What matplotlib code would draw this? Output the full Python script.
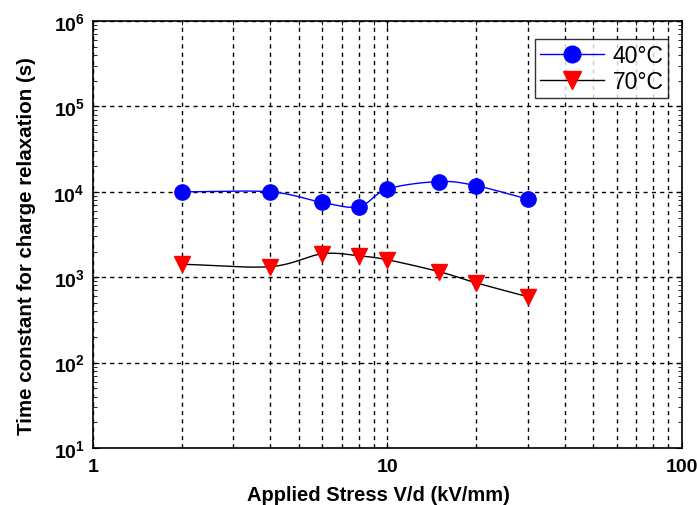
import numpy as np
import matplotlib
matplotlib.use('Agg')
import matplotlib.pyplot as plt
from matplotlib.ticker import FixedLocator, FuncFormatter, LogLocator, NullFormatter

plt.rcParams['font.family'] = 'Liberation Sans'
plt.rcParams['mathtext.fontset'] = 'custom'
plt.rcParams['mathtext.rm'] = 'Liberation Sans:bold'
plt.rcParams['mathtext.it'] = 'Liberation Sans:bold'
plt.rcParams['mathtext.bf'] = 'Liberation Sans:bold'

# data
stress = [2, 4, 6, 8, 10, 15, 20, 30]
tau_40 = [10000, 10000, 7500, 6700, 10800, 13200, 11800, 8200]
tau_70 = [1420, 1330, 1880, 1780, 1600, 1160, 860, 590]


def smooth(x, y, n=20):
    # Catmull-Rom curve through the points (in log space) for drawing
    lx = np.log10(x)
    ly = np.log10(y)
    px = np.concatenate([[2 * lx[0] - lx[1]], lx, [2 * lx[-1] - lx[-2]]])
    py = np.concatenate([[2 * ly[0] - ly[1]], ly, [2 * ly[-1] - ly[-2]]])
    xs, ys = [], []
    t = np.linspace(0, 1, n, endpoint=False)
    for i in range(1, len(px) - 2):
        for p, out in ((px, xs), (py, ys)):
            p0, p1, p2, p3 = p[i - 1], p[i], p[i + 1], p[i + 2]
            out.extend(0.5 * (2 * p1 + (-p0 + p2) * t + (2 * p0 - 5 * p1 + 4 * p2 - p3) * t ** 2
                              + (-p0 + 3 * p1 - 3 * p2 + p3) * t ** 3))
    xs.append(lx[-1])
    ys.append(ly[-1])
    return 10 ** np.array(xs), 10 ** np.array(ys)


fig = plt.figure(figsize=(6.97, 5.06), dpi=100)
ax = fig.add_axes([0.1334, 0.1126, 0.845, 0.8439])

sx, sy = smooth(stress, tau_40)
ax.plot(sx, sy, color='blue', lw=1, zorder=3)
ax.plot(stress, tau_40, 'o', color='blue', ms=11, zorder=4)
sx, sy = smooth(stress, tau_70)
ax.plot(sx, sy, color='black', lw=1, zorder=3)
ax.plot(stress, tau_70, 'v', color='red', ms=12, zorder=4)

# legend handles
h1, = ax.plot([], [], '-o', color='blue', ms=12, lw=1)
h2, = ax.plot([], [], '-v', color='black', mfc='red', mec='red', ms=13, lw=1)
leg = ax.legend([h1, h2], ['40°C', '70°C'], loc='upper right', fontsize=16.5,
                frameon=True, fancybox=False, edgecolor='black', handlelength=2.8,
                handletextpad=0.4, borderpad=0.2, labelspacing=0.15,
                borderaxespad=0, bbox_to_anchor=(0.977, 0.958))
leg.get_frame().set_linewidth(1)

ax.set_xscale('log')
ax.set_yscale('log')
ax.set_xlim(1, 100)
ax.set_ylim(10, 1e6)

ax.xaxis.set_major_locator(FixedLocator([1, 10, 100]))
ax.xaxis.set_minor_locator(LogLocator(base=10, subs=np.arange(2, 10)))
ax.xaxis.set_minor_formatter(NullFormatter())
ax.xaxis.set_major_formatter(FuncFormatter(lambda v, p: '%d' % v))
ax.yaxis.set_major_locator(FixedLocator([10, 100, 1e3, 1e4, 1e5, 1e6]))
ax.yaxis.set_minor_locator(LogLocator(base=10, subs=np.arange(2, 10)))
ax.yaxis.set_minor_formatter(NullFormatter())
ax.yaxis.set_major_formatter(FuncFormatter(lambda v, p: r'$10^{%d}$' % round(np.log10(v))))

ax.grid(True, which='major', axis='y', color='black', ls=(0, (3, 3)), lw=1)
ax.grid(True, which='both', axis='x', color='black', ls=(0, (3, 3)), lw=1)
ax.tick_params(which='both', direction='in', top=True, right=True, labelsize=14)
ax.tick_params(which='major', length=4)
ax.tick_params(which='minor', length=3)
ax.tick_params(axis='x', which='major', pad=7)
ax.tick_params(axis='y', which='major', pad=6)
for lab in ax.get_xticklabels():
    lab.set_fontweight('bold')
for s in ax.spines.values():
    s.set_linewidth(1.2)

ax.set_xlabel('Applied Stress V/d (kV/mm)', fontsize=14.5, fontweight='bold')
ax.set_ylabel('Time constant for charge relaxation (s)', fontsize=14.8, fontweight='bold')
ax.xaxis.set_label_coords(0.484, -0.086)
ax.yaxis.set_label_coords(-0.097, 0.475)

fig.savefig('out.png', dpi=100)
